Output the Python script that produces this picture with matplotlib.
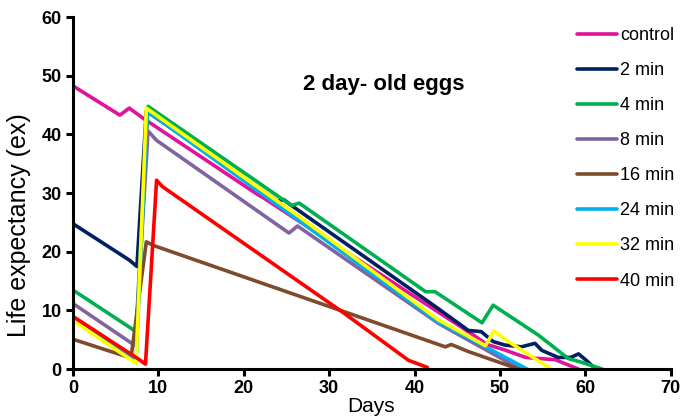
import matplotlib as mpl
import matplotlib.pyplot as plt

mpl.rcParams["font.family"] = ["Liberation Sans", "DejaVu Sans"]

labels = ["control", "2 min", "4 min", "8 min", "16 min", "24 min", "32 min", "40 min"]
colors = ["#E0139A", "#002060", "#00B050", "#8064A2", "#7E4B2C", "#00B0F0", "#FFFF00", "#FF0000"]

control_x = [0, 5.5, 6.6, 8.3, 21.6, 22.2, 46.7, 48.5, 50.5, 53, 56.5, 59.2]
control_y = [48.3, 43.3, 44.5, 42.7, 29.8, 29.3, 6.0, 4.2, 3.3, 2.0, 1.6, 0]

m2_x = [0, 6.6, 7.5, 8.6, 24.0, 24.7, 25.5, 42.8, 46.3, 47.8, 49.2, 50.6, 52.5, 54.1, 54.9, 56.8, 58.3, 59.2, 60.1, 61.0]
m2_y = [24.8, 18.6, 17.5, 44.0, 28.6, 28.9, 28.0, 10.3, 6.6, 6.4, 4.7, 4.1, 3.8, 4.4, 3.2, 2.0, 2.0, 2.6, 1.5, 0.3]

m4_x = [0, 7.4, 8.8, 25.6, 26.5, 41.3, 42.4, 47.9, 49.2, 54.5, 58.0, 59.5, 62.0]
m4_y = [13.5, 6.4, 44.8, 27.9, 28.3, 13.2, 13.2, 7.9, 10.9, 5.8, 1.8, 1.2, 0]

m8_x = [0, 7.3, 8.8, 9.8, 25.3, 26.3, 42.8, 52.4]
m8_y = [11.2, 4.0, 40.6, 39.0, 23.2, 24.4, 7.8, 0]

m16_x = [0, 6.8, 8.6, 9.4, 43.6, 44.3, 46.3, 52.2]
m16_y = [5.1, 1.9, 21.7, 21.1, 3.8, 4.2, 3.0, 0]

m24_x = [0, 7.4, 8.7, 26.5, 42.8, 48.7, 53.2]
m24_y = [8.6, 1.6, 44.0, 25.3, 8.0, 3.5, 0]

m32_x = [0, 7.4, 8.6, 26.5, 42.8, 48.3, 49.3, 51.0, 56.0]
m32_y = [8.3, 1.0, 44.5, 26.0, 8.4, 4.0, 6.5, 4.7, 0]

m40_x = [0, 7.6, 8.5, 9.8, 10.5, 31.5, 39.3, 41.5]
m40_y = [9.0, 1.8, 0.85, 32.2, 31.1, 9.8, 1.5, 0.3]

series_x = [control_x, m2_x, m4_x, m8_x, m16_x, m24_x, m32_x, m40_x]
series_y = [control_y, m2_y, m4_y, m8_y, m16_y, m24_y, m32_y, m40_y]

fig = plt.figure(figsize=(6.81, 4.19), dpi=100)
ax = fig.add_axes([0.107, 0.119, 0.878, 0.840])

for xs, ys, lab, c in zip(series_x, series_y, labels, colors):
    ax.plot(xs, ys, color=c, lw=2.6, label=lab, solid_joinstyle="round", solid_capstyle="round")

ax.set_xlim(0, 70)
ax.set_ylim(0, 60)
ax.set_xticks(range(0, 71, 10))
ax.set_yticks(range(0, 61, 10))
for s in ["top", "right"]:
    ax.spines[s].set_visible(False)
for s in ["left", "bottom"]:
    ax.spines[s].set_linewidth(2.2)
ax.tick_params(width=2.2, length=5, labelsize=13, pad=3)
for t in ax.get_xticklabels() + ax.get_yticklabels():
    t.set_fontweight("bold")

ax.set_xlabel("Days", fontsize=15)
ax.xaxis.set_label_coords(0.498, -0.078)
ax.set_ylabel("Life expectancy (ex)", fontsize=18)
ax.yaxis.set_label_coords(-0.07, 0.41)

ax.text(0.52, 0.81, "2 day- old eggs", transform=ax.transAxes, ha="center", va="center",
        fontsize=16, fontweight="bold")

ax.legend(loc="upper left", bbox_to_anchor=(0.824, 0.974), bbox_transform=fig.transFigure,
          frameon=False, fontsize=13, handlelength=2.2, handletextpad=0.15, labelspacing=1.0,
          borderpad=0.4)

fig.savefig("out.png", dpi=100)
